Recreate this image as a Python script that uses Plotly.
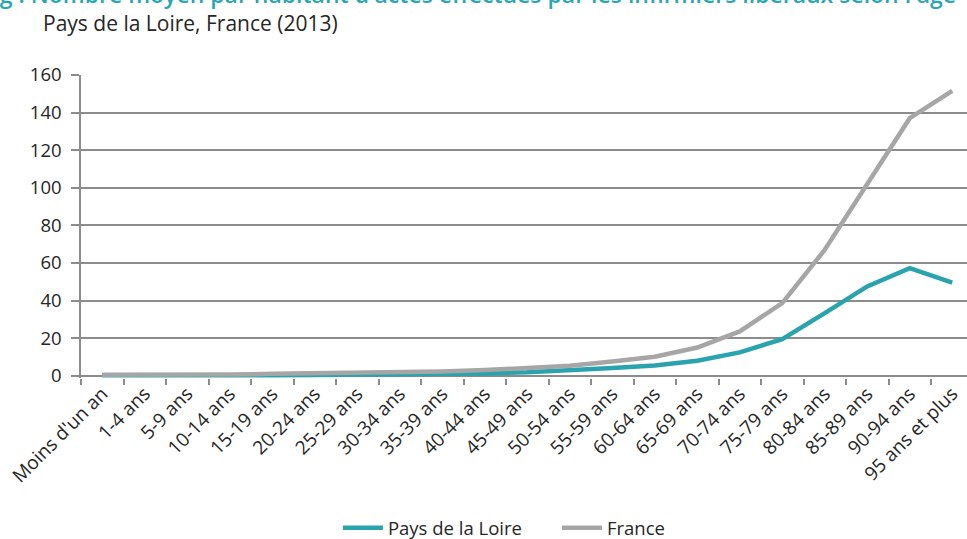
import plotly.graph_objects as go

categories = ["Moins d'un an", "1-4 ans", "5-9 ans", "10-14 ans", "15-19 ans", "20-24 ans",
              "25-29 ans", "30-34 ans", "35-39 ans", "40-44 ans", "45-49 ans", "50-54 ans",
              "55-59 ans", "60-64 ans", "65-69 ans", "70-74 ans", "75-79 ans", "80-84 ans",
              "85-89 ans", "90-94 ans", "95 ans et plus"]

pays_de_la_loire = [0.3, 0.2, 0.1, 0.2, 0.3, 0.4, 0.5, 0.7, 0.9, 1.2, 1.8, 2.8,
                    4.1, 5.5, 8.0, 12.4, 19.5, 33.3, 47.5, 57.2, 49.6]
france = [0.5, 0.4, 0.4, 0.6, 1.0, 1.2, 1.5, 1.8, 2.3, 3.0, 4.0, 5.3,
          7.6, 10.1, 15.0, 23.6, 38.6, 67.0, 102.0, 137.0, 151.5]

y_ticks = [0, 20, 40, 60, 80, 100, 120, 140, 160]

title_text = "Fig : Nombre moyen par habitant d'actes effectués par les infirmiers libéraux selon l'âge"
subtitle_text = "Pays de la Loire, France (2013)"

TEAL = "#29A4AE"
GREY = "#A6A6A6"
AXIS = "#8C8C8C"
TEXT = "#262626"
FONT = "Open Sans"

fig = go.Figure()
fig.add_trace(go.Scatter(x=categories, y=pays_de_la_loire, mode="lines", name="Pays de la Loire",
                         line=dict(color=TEAL, width=4.5)))
fig.add_trace(go.Scatter(x=categories, y=france, mode="lines", name="France",
                         line=dict(color=GREY, width=4.5)))

fig.update_layout(
    width=967, height=539,
    margin=dict(l=81, r=0, t=75, b=161, autoexpand=False),
    paper_bgcolor="white", plot_bgcolor="white",
    font=dict(family=FONT, size=18, color=TEXT),
    showlegend=True,
    legend=dict(orientation="h", xref="paper", x=0.290, xanchor="left",
                yref="container", y=0.02, yanchor="middle",
                entrywidth=164, entrywidthmode="pixels",
                font=dict(size=18.5, color=TEXT), itemwidth=40),
    xaxis=dict(type="category", categoryorder="array", categoryarray=categories,
               range=[-0.5, 20.347], tickson="boundaries", ticks="outside", ticklen=6,
               tickwidth=1.5, tickcolor=AXIS, tickangle=-45, showgrid=False,
               showline=False, tickfont=dict(size=19, color=TEXT), fixedrange=True,
               automargin=False),
    yaxis=dict(range=[-1.2, 160], tickvals=y_ticks, ticks="outside", ticklen=8,
               tickwidth=1.5, tickcolor=AXIS, showgrid=True, gridcolor=AXIS, gridwidth=1.5,
               zeroline=True, zerolinecolor=AXIS, zerolinewidth=1.5,
               showline=True, linecolor=AXIS, linewidth=1.5, ticklabelstandoff=6,
               tickfont=dict(size=18.5, color=TEXT), fixedrange=True, automargin=False),
)

fig.add_annotation(text=title_text, xref="paper", yref="paper", x=-0.115, xanchor="left",
                   y=1.208, yanchor="bottom", showarrow=False,
                   font=dict(family=FONT, size=23, color="#2AA6B2", weight=600))
fig.add_annotation(text=subtitle_text, xref="paper", yref="paper", x=-0.045, xanchor="left",
                   y=1.1715, yanchor="middle", showarrow=False,
                   font=dict(family=FONT, size=21, color=TEXT))

fig.write_html("out.html", config={"displayModeBar": False},
               post_script="document.body.style.margin='0px';")
